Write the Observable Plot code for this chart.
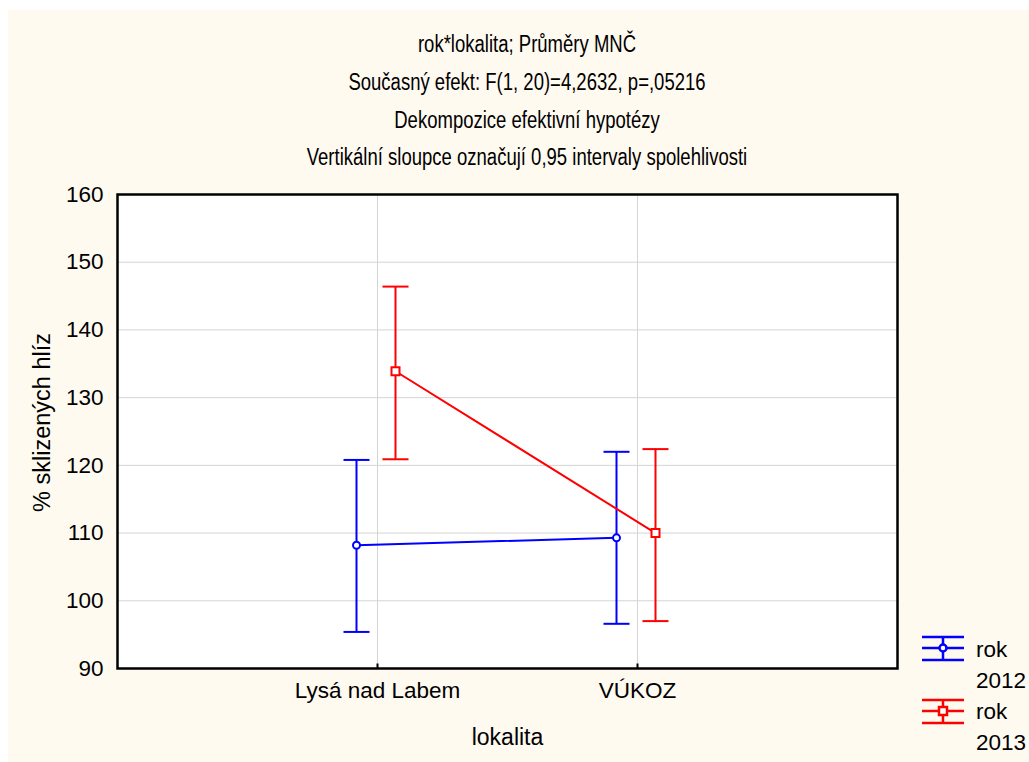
<!DOCTYPE html>
<html>
<head>
<meta charset="utf-8">
<script src="https://cdn.jsdelivr.net/npm/d3@7"></script>
<script src="https://cdn.jsdelivr.net/npm/@observablehq/plot@0.6"></script>
<style>
  html, body { margin: 0; padding: 0; background: #ffffff; }
  body { width: 1029px; height: 762px; position: relative; overflow: hidden; font-family: "Liberation Sans", Arial, sans-serif; }
  #bg { position: absolute; left: 8px; top: 10px; right: 0; bottom: 0; background: #FFFAF0; }
  .title { position: absolute; left: 0; width: 1054px; text-align: center; font-size: 23px; color: #000; line-height: 23px; white-space: nowrap; transform: scaleX(0.805); transform-origin: 527px 0; }
  #chart { position: absolute; left: 0; top: 180px; }
  .leg { position: absolute; font-size: 22.5px; color: #000; line-height: 22px; }
  #legsvg { position: absolute; left: 915px; top: 630px; }
</style>
</head>
<body>
<div id="bg"></div>
<div class="title" style="top:33px">rok*lokalita; Průměry MNČ</div>
<div class="title" style="top:71px">Současný efekt: F(1, 20)=4,2632, p=,05216</div>
<div class="title" style="top:109px">Dekompozice efektivní hypotézy</div>
<div class="title" style="top:146px">Vertikální sloupce označují 0,95 intervaly spolehlivosti</div>
<div id="chart"></div>
<svg id="legsvg" width="60" height="100"></svg>
<div class="leg" style="left:976px; top:639px">rok</div>
<div class="leg" style="left:976px; top:670px">2012</div>
<div class="leg" style="left:976px; top:701px">rok</div>
<div class="leg" style="left:976px; top:732px">2013</div>
<script>
const localities = ["Lysá nad Labem", "VÚKOZ"];
const years = ["rok 2012", "rok 2013"];
const colors = ["#0000FF", "#FF0000"];
const mean2012 = [108.2, 109.3];
const lower2012 = [95.4, 96.6];
const upper2012 = [120.8, 122.0];
const mean2013 = [133.9, 110.0];
const lower2013 = [120.9, 97.0];
const upper2013 = [146.4, 122.4];
const yTicks = [90, 100, 110, 120, 130, 140, 150, 160];
const yLabel = "% sklizených hlíz";
const xLabel = "lokalita";

const series = [
  {year: years[0], mean: mean2012, lower: lower2012, upper: upper2012, color: colors[0], dx: -21, shape: "circle"},
  {year: years[1], mean: mean2013, lower: lower2013, upper: upper2013, color: colors[1], dx: 18, shape: "square"}
];

const capSymbol = {draw(ctx) { ctx.moveTo(-13, 0); ctx.lineTo(13, 0); }};
const vTickSymbol = {draw(ctx) { ctx.moveTo(0, 0); ctx.lineTo(0, -5); }};
const circleSym = {draw(ctx) { ctx.moveTo(3.5, 0); ctx.arc(0, 0, 3.5, 0, 2 * Math.PI); }};
const squareSym = {draw(ctx) { ctx.rect(-4, -4, 8, 8); }};

const marks = [
  Plot.frame({fill: "white", stroke: null}),
  Plot.gridY(yTicks, {stroke: "#d4d4d4", strokeOpacity: 1, strokeWidth: 1}),
  Plot.gridX(localities, {stroke: "#d4d4d4", strokeOpacity: 1, strokeWidth: 1}),
  Plot.axisY(yTicks, {tickSize: 0, tickPadding: 14, fontSize: 22.5, label: null}),
  Plot.axisX(localities, {tickSize: 0, tickPadding: 14, fontSize: 22.5, label: null}),
  Plot.dot(localities, {x: d => d, frameAnchor: "bottom", symbol: vTickSymbol, stroke: "black", strokeWidth: 2, r: 3})
];

for (const s of series) {
  const data = localities.map((loc, i) => ({loc, mean: s.mean[i], lower: s.lower[i], upper: s.upper[i]}));
  marks.push(
    Plot.ruleX(data, {x: "loc", y1: "lower", y2: "upper", stroke: s.color, strokeWidth: 2, dx: s.dx}),
    Plot.dot(data, {x: "loc", y: "lower", symbol: capSymbol, stroke: s.color, strokeWidth: 2, dx: s.dx, r: 3}),
    Plot.dot(data, {x: "loc", y: "upper", symbol: capSymbol, stroke: s.color, strokeWidth: 2, dx: s.dx, r: 3}),
    Plot.line(data, {x: "loc", y: "mean", stroke: s.color, strokeWidth: 2, dx: s.dx}),
    Plot.dot(data, {x: "loc", y: "mean", symbol: s.shape === "circle" ? circleSym : squareSym, stroke: s.color, fill: "white", strokeWidth: 2, dx: s.dx, r: 3})
  );
}

marks.push(Plot.frame({stroke: "black", strokeWidth: 2.5}));
marks.push(Plot.text([yLabel], {frameAnchor: "left", textAnchor: "middle", rotate: -90, dx: -75, dy: -9, fontSize: 23.5, text: d => d}));
marks.push(Plot.text([xLabel], {frameAnchor: "bottom", dy: 76, fontSize: 23, text: d => d}));

const chart = Plot.plot({
  width: 1029,
  height: 582,
  marginTop: 14,
  marginBottom: 94,
  marginLeft: 117,
  marginRight: 132,
  style: {background: "transparent", fontFamily: "'Liberation Sans', Arial, sans-serif", fontSize: "22px", color: "black", overflow: "visible"},
  x: {type: "point", domain: localities, padding: 1},
  y: {domain: [90, 160]},
  marks
});
document.getElementById("chart").appendChild(chart);

// legend
const leg = d3.select("#legsvg");
series.forEach((s, i) => {
  const cy = 18 + i * 63;
  const g = leg.append("g").attr("stroke", s.color).attr("stroke-width", 2.5).attr("fill", "white");
  g.append("line").attr("x1", 7).attr("x2", 49).attr("y1", cy - 11).attr("y2", cy - 11);
  g.append("line").attr("x1", 7).attr("x2", 49).attr("y1", cy).attr("y2", cy);
  g.append("line").attr("x1", 7).attr("x2", 49).attr("y1", cy + 12).attr("y2", cy + 12);
  g.append("line").attr("x1", 28).attr("x2", 28).attr("y1", cy - 11).attr("y2", cy + 12);
  if (s.shape === "circle") g.append("circle").attr("cx", 28).attr("cy", cy).attr("r", 3.5);
  else g.append("rect").attr("x", 24).attr("y", cy - 4).attr("width", 8).attr("height", 8);
});
</script>
</body>
</html>
